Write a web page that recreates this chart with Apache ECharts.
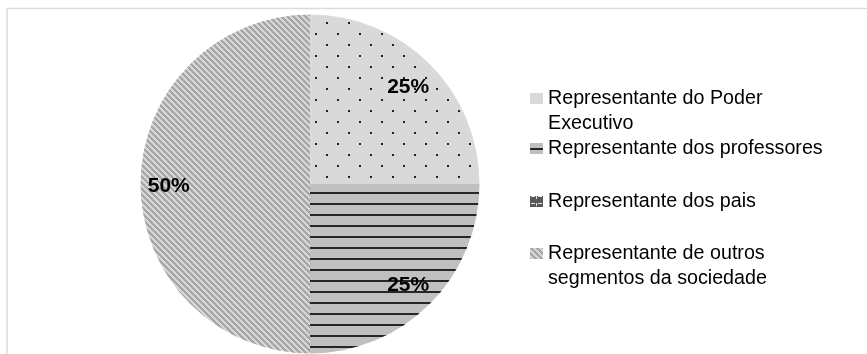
<!DOCTYPE html>
<html><head><meta charset="utf-8">
<script src="https://cdn.jsdelivr.net/npm/echarts@6/dist/echarts.min.js"></script>
<style>html,body{margin:0;padding:0;background:#fff}#c{width:867px;height:354px}</style>
</head><body><div id="c"></div>
<script>
// ---- data ----
const categories = [
  'Representante do Poder Executivo',
  'Representante dos professores',
  'Representante dos pais',
  'Representante de outros segmentos da sociedade'
];
const shares = [25, 25, 0, 50];
const legendLines = [
  ['Representante do Poder', 'Executivo'],
  ['Representante dos professores'],
  ['Representante dos pais'],
  ['Representante de outros', 'segmentos da sociedade']
];

// ---- fill patterns ----
function tile(w, h, draw) {
  const c = document.createElement('canvas');
  c.width = w; c.height = h;
  draw(c.getContext('2d'), w, h);
  return { image: c, repeat: 'repeat' };
}
const dots = tile(22, 22, (g, w, h) => {
  g.fillStyle = '#d9d9d9'; g.fillRect(0, 0, w, h);
  g.fillStyle = '#222'; g.fillRect(18, 0, 2, 2); g.fillRect(7, 11, 2, 2);
});
const hlines = tile(4, 11, (g, w, h) => {
  g.fillStyle = '#c0c0c0'; g.fillRect(0, 0, w, h);
  g.fillStyle = '#262626'; g.fillRect(0, 5, w, 2);
});
const stripes = tile(6, 6, (g, w, h) => {
  for (let y = 0; y < h; y++) for (let x = 0; x < w; x++) {
    g.fillStyle = (((x - y) % 6) + 6) % 6 < 3 ? '#a6a6a6' : '#d6d6d6';
    g.fillRect(x, y, 1, 1);
  }
});
const plaid = tile(7, 7, (g, w, h) => {
  g.fillStyle = '#585858'; g.fillRect(0, 0, w, h);
  g.fillStyle = '#e6e6e6'; g.fillRect(1, 0, 4, 1); g.fillRect(6, 0, 1, 3);
});
const fills = [dots, hlines, plaid, stripes];

const pieData = categories.map((n, i) => ({ name: n, value: shares[i], itemStyle: { color: fills[i] } }));

const chart = echarts.init(document.getElementById('c'), null, { renderer: 'canvas' });
const lineCenters = [98.5, 148.5, 201.5, 253.5];
chart.setOption({
  animation: false,
  graphic: [{
    type: 'rect', silent: true,
    shape: { x: 7, y: 8.5, width: 900, height: 400 },
    style: { fill: 'none', stroke: '#dcdcdc', lineWidth: 1.5 }
  }],
  legend: categories.map((name, i) => {
    const multi = legendLines[i].length > 1;
    return {
      orient: 'vertical', left: 530,
      top: multi ? lineCenters[i] - 37.5 : lineCenters[i] - 12.5,
      padding: 0, itemWidth: 13, itemHeight: 11, itemGap: 0,
      icon: 'rect', selectedMode: false, data: [name],
      itemStyle: { borderWidth: 0 },
      formatter: () => (multi ? '\n' : '') + legendLines[i].join('\n'),
      textStyle: {
        fontFamily: "'Liberation Sans', Arial, sans-serif", fontSize: 19.7,
        lineHeight: 25, color: '#000'
      }
    };
  }),
  series: [{
    type: 'pie', silent: true, center: [310, 184], radius: [0, 169.5],
    startAngle: 90, clockwise: true,
    itemStyle: { borderWidth: 0 },
    label: { show: false }, labelLine: { show: false },
    data: pieData
  }, {
    type: 'pie', silent: true, center: [310, 184], radius: [105, 169.5],
    startAngle: 90, clockwise: true,
    itemStyle: { color: 'rgba(0,0,0,0)', borderWidth: 0 },
    labelLine: { show: false },
    label: {
      show: true, position: 'inside', color: '#000',
      fontFamily: "'Liberation Sans', Arial, sans-serif",
      fontWeight: 'bold', fontSize: 21, offset: [-1, 2],
      formatter: p => p.value ? Math.round(p.percent) + '%' : ''
    },
    data: categories.map((n, i) => ({ name: n, value: shares[i] }))
  }]
});
</script></body></html>
